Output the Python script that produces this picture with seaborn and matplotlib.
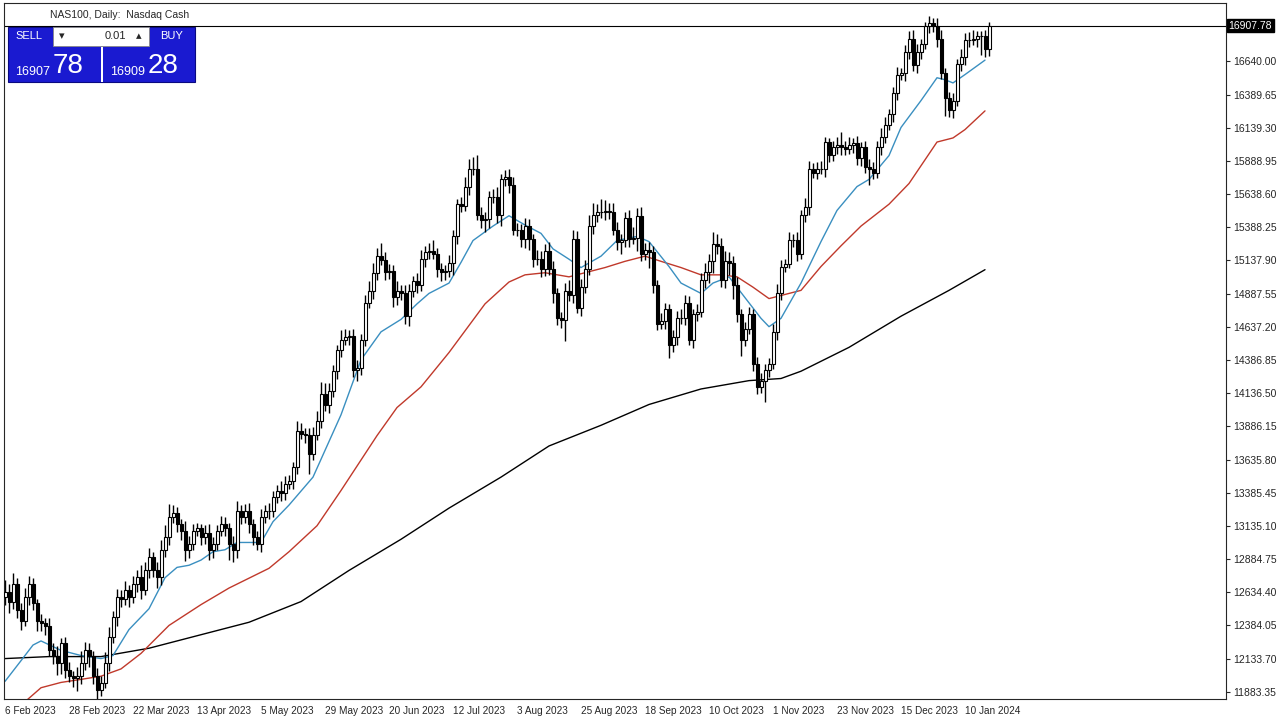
import numpy as np
import pandas as pd
import seaborn as sns
from matplotlib import pyplot as plt
from matplotlib.patches import Rectangle

# daily closes, NAS100 (one value per bar, oldest first)
closes = [
    12640, 12560, 12700, 12500, 12420, 12600, 12700, 12550, 12420, 12400,
    12380, 12200, 12150, 12100, 12250, 12050, 12000, 11990, 12000, 12100,
    12200, 12150, 12000, 11900, 11950, 12100, 12300, 12450,
    12600, 12580, 12650, 12600, 12700, 12750, 12650, 12800, 12900, 12800,
    12750, 12950, 13050, 13200, 13230, 13150, 13100, 12950, 13000, 13100,
    13120, 13050, 13080, 12950, 13000, 13100, 13150, 13120, 13000,
    12950, 13250, 13200, 13250, 13150, 13050, 13000, 13200, 13250, 13250,
    13350, 13400, 13380, 13450, 13470, 13580, 13850, 13830, 13820, 13680,
    13820, 13930,
    14130, 14050, 14150, 14300, 14460, 14540, 14560, 14570, 14310, 14330,
    14540, 14820, 14910, 15040, 15170, 15140, 15050, 15060, 14860, 14910,
    14890, 14720, 14910, 14980, 14950, 15150, 15200, 15210, 15190, 15070,
    15050, 15060, 15120,
    15320, 15560, 15550, 15690, 15830, 15830, 15480, 15440, 15450, 15620,
    15620, 15480, 15750, 15770, 15710, 15370, 15370, 15300, 15400, 15300,
    15150, 15150, 15070, 15210, 15070, 14890, 14700,
    14690, 14910, 14880, 15300, 14780, 14940, 15070, 15400, 15480, 15500,
    15500, 15510, 15500, 15370, 15280, 15290, 15460, 15300, 15310, 15470,
    15190, 15220, 15200, 14950, 14660, 14680, 14770, 14500,
    14560, 14700, 14700, 14820, 14540, 14730, 14750, 14990, 15050, 15130,
    15260, 15250, 14990, 15130, 15120, 14950, 14730, 14540, 14620, 14730,
    14360, 14180, 14230, 14310, 14360, 14600, 14890,
    15090, 15110, 15290, 15290, 15190, 15480, 15540, 15830, 15800, 15830,
    15830, 16030, 15930, 15990, 16010, 15990, 15980, 16010, 16020, 15910,
    15990, 15840, 15830, 15800, 15990, 16070, 16160,
    16240, 16400, 16540, 16550, 16710, 16810, 16610, 16710, 16770, 16910,
    16930, 16910, 16810, 16550, 16360, 16270, 16340, 16620, 16670, 16800,
    16800, 16810, 16830, 16830, 16730, 16908,
]
first_open = 12600

# wick extensions above / below the body, in points
wick_hi = [
    90, 60, 80, 40, 50, 70, 60, 40, 30, 50, 40, 60, 50, 80, 40, 50, 60, 40, 70, 90,
    60, 50, 40, 60, 50, 80, 70, 40, 60, 50, 70, 40, 60, 50, 90, 60, 70, 40, 60, 80,
    90, 100, 60, 50, 40, 70, 60, 50, 40, 30, 60, 70, 50, 40, 60, 50, 40, 60, 70, 40,
    50, 60, 40, 50, 60, 40, 60, 50, 40, 70, 60, 50, 40, 80, 60, 40, 50, 60, 70, 90,
    80, 60, 50, 40, 70, 60, 40, 50, 60, 40, 60, 70, 80, 60, 100, 60, 50, 40, 70, 40,
    60, 50, 40, 60, 70, 50, 60, 80, 40, 50, 40, 60, 50, 40, 60, 80, 70, 90, 100, 60,
    50, 40, 60, 70, 40, 50, 60, 60, 50, 40, 60, 50, 40, 70, 60, 50, 70, 60, 40, 50,
    60, 80, 70, 60, 60, 70, 80, 90, 60, 100, 80, 60, 70, 60, 50, 40, 60, 80, 60, 70,
    50, 60, 50, 40, 60, 50, 40, 50, 60, 70, 60, 50, 40, 60, 50, 70, 60, 90, 80, 60,
    80, 70, 50, 60, 40, 50, 60, 40, 50, 60, 50, 40, 60, 70, 50, 40, 60, 50, 60, 40,
    70, 60, 40, 50, 60, 40, 30, 50, 60, 100, 50, 60, 40, 60, 40, 50, 60, 50, 50, 70,
    60, 40, 50, 60, 40, 50, 60, 70, 60, 40, 30, 50, 40, 60, 70, 40, 50, 60, 40, 60,
    50, 60, 70, 40, 40, 50, 30,
]
wick_lo = [
    60, 80, 50, 60, 70, 40, 60, 50, 80, 60, 70, 50, 60, 90, 80, 60, 40, 70, 100, 60,
    50, 80, 60, 200, 50, 40, 60, 50, 70, 60, 40, 80, 50, 60, 70, 40, 60, 50, 80, 60,
    50, 60, 40, 60, 70, 80, 60, 50, 40, 60, 50, 70, 60, 50, 40, 60, 120, 90, 60, 50,
    40, 70, 60, 50, 60, 40, 60, 50, 40, 60, 50, 40, 60, 50, 40, 60, 150, 50, 40, 60,
    50, 60, 40, 60, 50, 40, 60, 50, 80, 60, 50, 40, 60, 50, 40, 60, 50, 70, 60, 50,
    60, 80, 50, 60, 40, 60, 50, 40, 60, 70, 60, 50, 90, 60, 50, 40, 60, 50, 40, 60,
    90, 70, 50, 60, 80, 50, 60, 40, 50, 60, 70, 80, 60, 50, 60, 50, 40, 70, 50, 60,
    160, 50, 60, 40, 60, 50, 40, 60, 50, 40, 60, 50, 40, 60, 90, 50, 60, 40, 100, 60,
    50, 120, 60, 50, 40, 60, 100, 50, 60, 40, 50, 40, 60, 50, 40, 60, 80, 90, 60, 50,
    60, 90, 100, 60, 120, 50, 40, 60, 50, 40, 160, 50, 40, 60, 50, 40, 30, 50, 60, 40,
    50, 60, 40, 50, 40, 60, 50, 40, 50, 60, 50, 40, 60, 50, 60, 40, 120, 50, 40, 60,
    50, 40, 60, 50, 40, 60, 50, 40, 60, 50, 40, 60, 50, 60, 40, 130, 50, 60, 40, 50,
    60, 50, 40, 60, 140, 60, 50,
]

# moving averages: (bar index, value)
ma_fast_idx = [0, 4, 7, 9, 14, 19, 24, 27, 31, 36, 40, 43, 46, 49, 52, 55, 58, 64, 67, 71,
               77, 84, 89, 94, 99, 103, 106, 111, 114, 117, 122, 126, 130, 134, 137, 141,
               144, 149, 153, 158, 161, 166, 169, 174, 177, 181, 185, 189, 191, 194, 199,
               204, 208, 213, 216, 221, 224, 229, 233, 235, 237, 240, 245]
ma_fast = [11962, 12118, 12236, 12267, 12196, 12157, 12134, 12157, 12353, 12510, 12744,
           12822, 12838, 12877, 12940, 12955, 13010, 13010, 13167, 13292, 13503, 13973,
           14388, 14599, 14693, 14810, 14889, 14967, 15123, 15288, 15397, 15475, 15405,
           15342, 15225, 15147, 15084, 15170, 15288, 15319, 15280, 15092, 14967, 14889,
           14967, 15014, 14857, 14701, 14638, 14701, 14967, 15280, 15515, 15695, 15749,
           15929, 16141, 16344, 16516, 16501, 16477, 16540, 16649]
ma_mid_idx = [0, 4, 9, 14, 19, 24, 29, 34, 41, 49, 56, 66, 71, 78, 84, 93, 98, 104, 111,
              120, 126, 130, 135, 141, 150, 155, 160, 164, 169, 174, 179, 183, 187, 191,
              199, 204, 209, 214, 221, 226, 233, 237, 240, 245]
ma_mid = [11664, 11782, 11914, 11954, 11977, 12001, 12056, 12173, 12384, 12541, 12666,
          12815, 12940, 13136, 13402, 13816, 14028, 14184, 14443, 14810, 14975, 15029,
          15045, 15014, 15084, 15131, 15170, 15131, 15084, 15029, 15029, 15014, 14936,
          14850, 14912, 15092, 15248, 15397, 15562, 15718, 16031, 16062, 16125, 16266]
ma_slow_idx = [0, 11, 24, 36, 49, 61, 74, 86, 99, 111, 124, 136, 149, 161, 174, 186, 194,
               199, 211, 224, 236, 245]
ma_slow = [12134, 12149, 12149, 12212, 12314, 12408, 12564, 12799, 13034, 13269, 13503,
           13738, 13894, 14051, 14168, 14231, 14247, 14302, 14482, 14717, 14912, 15068]

date_labels = ['6 Feb 2023', '28 Feb 2023', '22 Mar 2023', '13 Apr 2023', '5 May 2023',
               '29 May 2023', '20 Jun 2023', '12 Jul 2023', '3 Aug 2023', '25 Aug 2023',
               '18 Sep 2023', '10 Oct 2023', '1 Nov 2023', '23 Nov 2023', '15 Dec 2023',
               '10 Jan 2024']
price_ticks = [11883.35, 12133.70, 12384.05, 12634.40, 12884.75, 13135.10, 13385.45,
               13635.80, 13886.15, 14136.50, 14386.85, 14637.20, 14887.55, 15137.90,
               15388.25, 15638.60, 15888.95, 16139.30, 16389.65, 16640.00]
last_price = 16907.78

sns.set_style("white")
plt.rcParams['font.family'] = ['Liberation Sans', 'DejaVu Sans']

df = pd.DataFrame({'close': closes})
df['open'] = [first_open] + closes[:-1]
df['high'] = df[['open', 'close']].max(axis=1) + np.array(wick_hi)
df['low'] = df[['open', 'close']].min(axis=1) - np.array(wick_lo)
df['idx'] = np.arange(len(df))
up = df.close >= df.open

fig = plt.figure(figsize=(12.87, 7.22), dpi=100)
ax = fig.add_axes([4 / 1287, 23 / 722, 1222 / 1287, 696 / 722])

ax.vlines(df.idx, df.low, df.high, color='black', lw=1, zorder=2)
ax.bar(df.idx[up], (df.close - df.open)[up], bottom=df.open[up], width=0.75,
       color='white', edgecolor='black', lw=0.8, zorder=3)
ax.bar(df.idx[~up], (df.open - df.close)[~up], bottom=df.close[~up], width=0.75,
       color='black', edgecolor='black', lw=0.8, zorder=3)

sns.lineplot(ax=ax, x=ma_slow_idx, y=ma_slow, color='black', lw=1, zorder=1)
sns.lineplot(ax=ax, x=ma_mid_idx, y=ma_mid, color='#c0392b', lw=1, zorder=1)
sns.lineplot(ax=ax, x=ma_fast_idx, y=ma_fast, color='#3a8fc0', lw=1, zorder=1)

ax.axhline(last_price, color='black', lw=0.8, zorder=1)

ax.set_xlim(-0.25, 305.25)
ax.set_ylim(11829, 17080)
ax.yaxis.tick_right()
ax.set_yticks(price_ticks)
ax.set_yticklabels([f'{p:.2f}' for p in price_ticks], fontsize=7.5)
ax.set_xticks(np.arange(len(date_labels)) * 16)
ax.set_xticklabels(date_labels, fontsize=7.2, ha='left')
ax.tick_params(length=3, width=0.8, pad=2)
for s in ax.spines.values():
    s.set_linewidth(0.8)
ax.text(1.002, (last_price - 11829) / (17080 - 11829), f'{last_price:.2f}',
        transform=ax.transAxes, fontsize=7.5, color='white', va='center', ha='left',
        bbox=dict(boxstyle='square,pad=0.15', fc='black', ec='black'))

fig.text(50 / 1287, 1 - 15 / 722, 'NAS100, Daily:  Nasdaq Cash', fontsize=7.5, va='center')

# one-click trading panel
def px_rect(x, y, w, h, **kw):
    fig.add_artist(Rectangle((x / 1287, 1 - (y + h) / 722), w / 1287, h / 722,
                             transform=fig.transFigure, **kw))

px_rect(8, 27, 187, 55, fc='#1a1ad0', ec='#0a0a80', lw=0.8)
px_rect(53, 27, 96, 19, fc='white', ec='#888888', lw=0.6)
px_rect(101, 47, 2, 35, fc='white', ec='none')
fig.text(29 / 1287, 1 - 36 / 722, 'SELL', color='white', fontsize=8, ha='center', va='center')
fig.text(172 / 1287, 1 - 36 / 722, 'BUY', color='white', fontsize=8, ha='center', va='center')
fig.text(62 / 1287, 1 - 36 / 722, '▾', fontsize=8, ha='center', va='center')
fig.text(139 / 1287, 1 - 36 / 722, '▴', fontsize=8, ha='center', va='center')
fig.text(126 / 1287, 1 - 36 / 722, '0.01', fontsize=8, ha='right', va='center')
fig.text(15 / 1287, 1 - 72 / 722, '16907', color='white', fontsize=9, va='center')
fig.text(53 / 1287, 1 - 66 / 722, '78', color='white', fontsize=20, va='center')
fig.text(110 / 1287, 1 - 72 / 722, '16909', color='white', fontsize=9, va='center')
fig.text(148 / 1287, 1 - 66 / 722, '28', color='white', fontsize=20, va='center')

fig.savefig('out.png', dpi=100)
